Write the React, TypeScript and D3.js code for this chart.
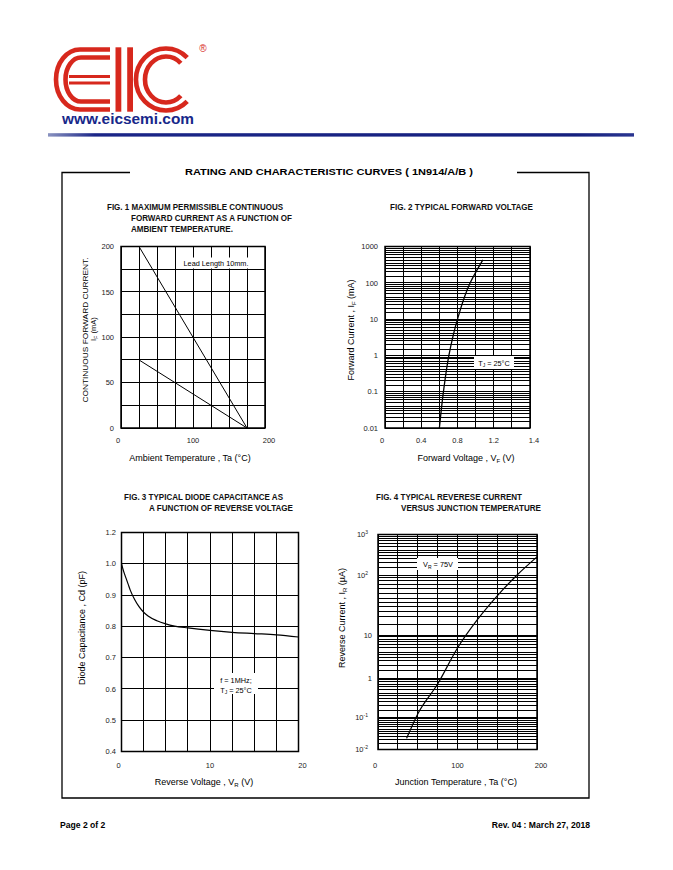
import React from "react";
import * as d3 from "d3";

// ---------- data ----------
// Fig. 1 derating lines
const fig1Temp = [25, 175];
const fig1CurrentUpper = [200, 0];
const fig1CurrentLower = [75, 0];
const fig1XTicks = [0, 100, 200];
const fig1YTicks = [0, 50, 100, 150, 200];

// Fig. 2 forward voltage
const fig2Voltage = [0.6, 0.645, 0.705, 0.8, 0.94, 1.08];
const fig2Current = [0.01, 0.1, 1, 10, 100, 430];
const fig2XTicks = [0, 0.4, 0.8, 1.2, 1.6];
const fig2XLabels = ["0", "0.4", "0.8", "1.2", "1.4"];
const fig2YTicks = [0.01, 0.1, 1, 10, 100, 1000];
const fig2YLabels = ["0.01", "0.1", "1", "10", "100", "1000"];

// Fig. 3 capacitance
const fig3Voltage = [0, 0.25, 0.5, 0.75, 1, 1.5, 2, 2.5, 3, 4, 5, 6, 7.5, 10, 12.5, 15, 17.5, 20];
const fig3Cap = [1.0, 0.975, 0.955, 0.935, 0.915, 0.885, 0.862, 0.845, 0.833, 0.818, 0.808, 0.801, 0.795, 0.787, 0.781, 0.777, 0.773, 0.766];
const fig3XTicks = [0, 10, 20];
const fig3YTicks = [0.4, 0.5, 0.6, 0.7, 0.8, 0.9, 1.0, 1.1];
const fig3YLabels = ["0.4", "0.5", "0.6", "0.7", "0.8", "0.9", "1.0", "1.2"];

// Fig. 4 reverse current
const fig4Temp = [36, 50, 75, 100, 125, 150, 175, 200];
const fig4Current = [0.022, 0.12, 0.7, 5, 18, 45, 100, 280];
const fig4XTicks = [0, 100, 200];
const fig4YTicks = [0.01, 0.1, 1, 10, 100, 1000];
const fig4YLabels = [["10", "-2"], ["10", "-1"], ["1", ""], ["10", ""], ["10", "2"], ["10", "3"]];

// minor lines of the log paper, inside one decade
const logMinor = [1, 1.5, 2, 2.5, 3, 3.5, 4, 5, 6, 7, 8, 9];

const FONT = "'Liberation Sans', Arial, Helvetica, sans-serif";
const RED = "#d7281d";
const NAVY = "#17288a";

function logGrid(decades: number[]) {
  const out: number[] = [];
  decades.forEach((d) => logMinor.forEach((m) => out.push(d * m)));
  return out;
}

// snap a 1px line onto the pixel grid
const crisp = (v: number) => Math.round(v - 0.5) + 0.5;

// ---------- scales ----------
const x1 = d3.scaleLinear().domain([0, 200]).range([121, 265]);
const y1 = d3.scaleLinear().domain([0, 200]).range([428, 246.5]);

const x2 = d3.scaleLinear().domain([0, 1.6]).range([385, 530]);
const y2 = d3.scaleLog().domain([0.01, 1000]).range([428, 246.5]);

const x3 = d3.scaleLinear().domain([0, 20]).range([121.5, 298.5]);
const y3 = d3.scaleLinear().domain([0.4, 1.1]).range([751.5, 532.5]);

const x4 = d3.scaleLinear().domain([0, 200]).range([378, 537]);
const y4 = d3.scaleLog()
  .domain([0.01, 0.1, 1, 10, 100, 1000])
  .range([749.5, 717, 678, 635, 575, 534.5]);

function Frame({ x, y }: { x: any; y: any }) {
  const [l, r] = x.range();
  const ys = y.range();
  const b = ys[0];
  const t = ys[ys.length - 1];
  return <rect x={l} y={t} width={r - l} height={b - t} fill="none" stroke="#000" strokeWidth={1.5} />;
}

function VLines({ x, y, values }: { x: any; y: any; values: number[] }) {
  const ys = y.range();
  return (
    <g stroke="#000" strokeWidth={1}>
      {values.map((v, i) => (
        <line key={i} x1={crisp(x(v))} x2={crisp(x(v))} y1={ys[0]} y2={ys[ys.length - 1]} />
      ))}
    </g>
  );
}

function HLines({ x, y, values }: { x: any; y: any; values: number[] }) {
  const [l, r] = x.range();
  return (
    <g stroke="#000" strokeWidth={1}>
      {values.map((v, i) => (
        <line key={i} x1={l} x2={r} y1={crisp(y(v))} y2={crisp(y(v))} />
      ))}
    </g>
  );
}

function XTickLabels({ x, ticks, labels, yPos }: { x: any; ticks: number[]; labels?: string[]; yPos: number }) {
  return (
    <g fontSize={7.5} textAnchor="middle" fill="#222">
      {ticks.map((t, i) => (
        <text key={i} x={x(t) + (i === 0 ? -3 : i === ticks.length - 1 ? 4 : 0)} y={yPos}>
          {labels ? labels[i] : String(t)}
        </text>
      ))}
    </g>
  );
}

function YTickLabels({ y, ticks, labels, xPos }: { y: any; ticks: number[]; labels?: string[]; xPos: number }) {
  return (
    <g fontSize={7.5} textAnchor="end" fill="#222">
      {ticks.map((t, i) => (
        <text key={i} x={xPos} y={y(t) + 2.7}>
          {labels ? labels[i] : String(t)}
        </text>
      ))}
    </g>
  );
}

function Title({ lines }: { lines: { text: string; x: number; y: number; w: number }[] }) {
  return (
    <g fontSize={8.2} fontWeight="bold" fill="#111">
      {lines.map((l, i) => (
        <text key={i} x={l.x} y={l.y} textLength={l.w} lengthAdjust="spacingAndGlyphs">
          {l.text}
        </text>
      ))}
    </g>
  );
}

function Logo() {
  return (
    <g>
      <g fill="none" stroke={RED} strokeWidth={4.6}>
        <path d="M110,49.5 H80 A24,30 0 0 0 80,109.5 H110" />
        <path d="M110,57.5 H81 A15.5,22 0 0 0 81,101.5 H110" />
        <path d="M69,76.5 H110 M69,83 H110" strokeWidth={3.2} />
        <path d="M187.2,57.6 A30,31 0 1 0 187.2,101.4" />
        <path d="M180.8,63.2 A21,23 0 1 0 180.8,95.8" />
      </g>
      <rect x={115.5} y={47.3} width={5.8} height={64.4} fill={RED} />
      <rect x={127.2} y={47.3} width={5.8} height={64.4} fill={RED} />
      <text x={203} y={52} fontSize={10} fill={RED} textAnchor="middle" fontFamily={FONT}>®</text>
      <text x={62} y={124} fontSize={14.5} fontWeight="bold" fill={NAVY} textLength={132} lengthAdjust="spacingAndGlyphs">
        www.eicsemi.com
      </text>
    </g>
  );
}

export default function App() {
  const straight = d3.line();
  const fig1Upper = fig1Temp.map((t, i) => [x1(t), y1(fig1CurrentUpper[i])] as [number, number]);
  const fig1Lower = fig1Temp.map((t, i) => [x1(t), y1(fig1CurrentLower[i])] as [number, number]);

  const curve2 = d3.line<number>()
    .x((_, i) => x2(fig2Voltage[i]))
    .y((d) => y2(d))
    .curve(d3.curveMonotoneY)(fig2Current);

  const curve3 = d3.line<number>()
    .x((d) => x3(d))
    .y((_, i) => y3(fig3Cap[i]))
    .curve(d3.curveMonotoneX)(fig3Voltage);

  const curve4 = d3.line<number>()
    .x((d) => x4(d))
    .y((_, i) => y4(fig4Current[i]))
    .curve(d3.curveMonotoneX)(fig4Temp);

  const grid2 = logGrid([0.01, 0.1, 1, 10, 100]).concat([1000]);
  const grid4 = logGrid([0.01, 0.1, 1, 10, 100]).concat([1000]);

  return (
    <svg width={673} height={870} style={{ position: "absolute", left: 0, top: 0, background: "#fff" }} fontFamily={FONT}>
      <rect width={673} height={870} fill="#fff" />
      <defs>
        <linearGradient id="bar" x1="0" x2="1" y1="0" y2="0">
          <stop offset="0" stopColor="#8a93c0" />
          <stop offset="0.08" stopColor="#1b2688" />
          <stop offset="0.9" stopColor="#15207e" />
          <stop offset="1" stopColor="#2a3590" />
        </linearGradient>
      </defs>

      <Logo />
      <rect x={48} y={133.2} width={586} height={3.4} fill="url(#bar)" />

      {/* outer box with heading */}
      <path d="M130,172.5 H62 V798 H589 V172.5 H517" fill="none" stroke="#000" strokeWidth={1.3} />
      <text x={185} y={175} fontSize={9.8} fontWeight="bold" textLength={288} lengthAdjust="spacingAndGlyphs">
        RATING AND CHARACTERISTIC CURVES  ( 1N914/A/B )
      </text>

      {/* ---------- FIG 1 ---------- */}
      <Title
        lines={[
          { text: "FIG. 1 MAXIMUM PERMISSIBLE CONTINUOUS", x: 107, y: 210, w: 176 },
          { text: "FORWARD CURRENT AS A FUNCTION OF", x: 131, y: 221, w: 161 },
          { text: "AMBIENT TEMPERATURE.", x: 131, y: 232, w: 102 },
        ]}
      />
      <VLines x={x1} y={y1} values={d3.range(0, 201, 25)} />
      <HLines x={x1} y={y1} values={d3.range(0, 201, 25)} />
      <rect x={178} y={257.5} width={76} height={11} fill="#fff" />
      <text x={216} y={265.8} fontSize={7.3} textAnchor="middle">Lead Length 10mm.</text>
      <path d={straight(fig1Upper) || ""} fill="none" stroke="#000" strokeWidth={1} />
      <path d={straight(fig1Lower) || ""} fill="none" stroke="#000" strokeWidth={1} />
      <Frame x={x1} y={y1} />
      <YTickLabels y={y1} ticks={fig1YTicks} xPos={114} />
      <XTickLabels x={x1} ticks={fig1XTicks} yPos={443} />
      <text x={190} y={461} fontSize={9} textAnchor="middle">Ambient Temperature , Ta (°C)</text>
      <text transform="translate(88,330) rotate(-90)" fontSize={7.6} textAnchor="middle" textLength={145} lengthAdjust="spacingAndGlyphs">
        CONTINUOUS  FORWARD CURRENT.
      </text>
      <text transform="translate(96,329) rotate(-90)" fontSize={7.6} textAnchor="middle">
        I<tspan dy={1.5} fontSize={5}>F</tspan><tspan dy={-1.5}> (mA)</tspan>
      </text>

      {/* ---------- FIG 2 ---------- */}
      <Title lines={[{ text: "FIG. 2 TYPICAL FORWARD VOLTAGE", x: 390, y: 210, w: 143 }]} />
      <VLines x={x2} y={y2} values={d3.range(0, 1.61, 0.2)} />
      <HLines x={x2} y={y2} values={grid2} />
      <path d={curve2 || ""} fill="none" stroke="#000" strokeWidth={1.3} />
      <rect x={474} y={356} width={40} height={13} fill="#fff" />
      <text x={494} y={365.5} fontSize={7.3} textAnchor="middle">
        T<tspan dy={1.5} fontSize={5}>J</tspan><tspan dy={-1.5}> = 25°C</tspan>
      </text>
      <Frame x={x2} y={y2} />
      <YTickLabels y={y2} ticks={fig2YTicks} labels={fig2YLabels} xPos={378} />
      <XTickLabels x={x2} ticks={fig2XTicks} labels={fig2XLabels} yPos={443} />
      <text x={466} y={461} fontSize={9} textAnchor="middle">
        Forward Voltage , V<tspan dy={1.8} fontSize={6}>F</tspan><tspan dy={-1.8}> (V)</tspan>
      </text>
      <text transform="translate(354,330) rotate(-90)" fontSize={9} textAnchor="middle">
        Forward Current , I<tspan dy={1.8} fontSize={6}>F</tspan><tspan dy={-1.8}>  (mA)</tspan>
      </text>

      {/* ---------- FIG 3 ---------- */}
      <Title
        lines={[
          { text: "FIG. 3 TYPICAL DIODE CAPACITANCE AS", x: 124, y: 500, w: 159 },
          { text: "A FUNCTION OF REVERSE VOLTAGE", x: 149, y: 511, w: 144 },
        ]}
      />
      <VLines x={x3} y={y3} values={d3.range(0, 20.1, 2.5)} />
      <HLines x={x3} y={y3} values={fig3YTicks} />
      <path d={curve3 || ""} fill="none" stroke="#000" strokeWidth={1.2} />
      <rect x={214} y={673} width={44} height={21} fill="#fff" />
      <text x={236} y={682.5} fontSize={7.3} textAnchor="middle">f = 1MHz;</text>
      <text x={236} y={692.5} fontSize={7.3} textAnchor="middle">
        T<tspan dy={1.5} fontSize={5}>J</tspan><tspan dy={-1.5}> = 25°C</tspan>
      </text>
      <Frame x={x3} y={y3} />
      <YTickLabels y={y3} ticks={fig3YTicks} labels={fig3YLabels} xPos={116} />
      <XTickLabels x={x3} ticks={fig3XTicks} yPos={768} />
      <text x={204} y={785} fontSize={9} textAnchor="middle">
        Reverse Voltage , V<tspan dy={1.8} fontSize={6}>R</tspan><tspan dy={-1.8}> (V)</tspan>
      </text>
      <text transform="translate(85,628) rotate(-90)" fontSize={9} textAnchor="middle">
        Diode Capacitance , Cd  (pF)
      </text>

      {/* ---------- FIG 4 ---------- */}
      <Title
        lines={[
          { text: "FIG. 4 TYPICAL REVERESE CURRENT", x: 376, y: 500, w: 146 },
          { text: "VERSUS JUNCTION TEMPERATURE", x: 401, y: 511, w: 140 },
        ]}
      />
      <VLines x={x4} y={y4} values={d3.range(0, 201, 25)} />
      <HLines x={x4} y={y4} values={grid4} />
      <path d={curve4 || ""} fill="none" stroke="#000" strokeWidth={1.2} />
      <rect x={417} y={558} width={41} height={12} fill="#fff" />
      <text x={438} y={567} fontSize={7.3} textAnchor="middle">
        V<tspan dy={1.5} fontSize={5}>R</tspan><tspan dy={-1.5}> = 75V</tspan>
      </text>
      <Frame x={x4} y={y4} />
      <g fontSize={7.5} textAnchor="end" fill="#222">
        {fig4YTicks.map((t, i) => (
          <text key={i} x={fig4YLabels[i][1] ? 368 : 372} y={y4(t) + 2.7}>
            {fig4YLabels[i][0]}
            {fig4YLabels[i][1] ? <tspan dy={-3} fontSize={5}>{fig4YLabels[i][1]}</tspan> : null}
          </text>
        ))}
      </g>
      <XTickLabels x={x4} ticks={fig4XTicks} yPos={768} />
      <text x={456} y={785} fontSize={9} textAnchor="middle">Junction Temperature , Ta (°C)</text>
      <text transform="translate(345,618) rotate(-90)" fontSize={9} textAnchor="middle">
        Reverse Current , I<tspan dy={1.8} fontSize={6}>R</tspan><tspan dy={-1.8}> (µA)</tspan>
      </text>

      {/* footer */}
      <text x={60} y={828} fontSize={8.6} fontWeight="bold">Page 2 of 2</text>
      <text x={590} y={828} fontSize={8.6} fontWeight="bold" textAnchor="end">Rev. 04 : March 27, 2018</text>
    </svg>
  );
}
